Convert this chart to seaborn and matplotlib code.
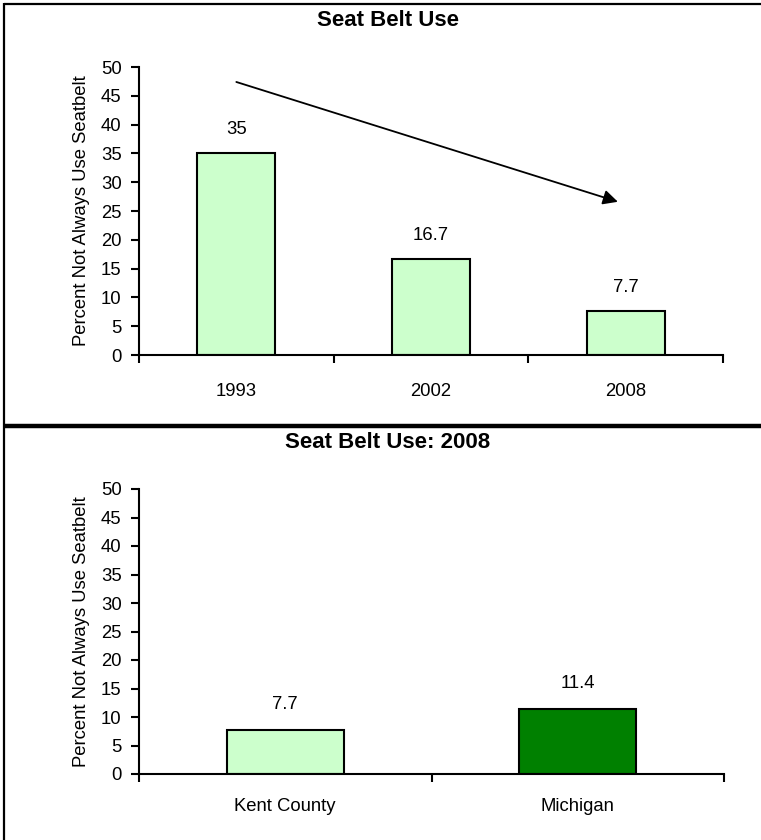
import matplotlib
matplotlib.use("Agg")
import matplotlib.pyplot as plt
from matplotlib.lines import Line2D
import seaborn as sns
import pandas as pd

# Data
years = ["1993", "2002", "2008"]
pct_trend = [35, 16.7, 7.7]
areas = ["Kent County", "Michigan"]
pct_2008 = [7.7, 11.4]

light_green = "#CCFFCC"
dark_green = "#008000"

sns.set_theme(style="white")
plt.rcParams["font.family"] = ["Liberation Sans", "DejaVu Sans"]
plt.rcParams["text.color"] = "black"
plt.rcParams["axes.labelcolor"] = "black"
plt.rcParams["xtick.color"] = "black"
plt.rcParams["ytick.color"] = "black"

W, H = 761, 840
fig = plt.figure(figsize=(W / 100, H / 100), dpi=100)
fig.patch.set_facecolor("white")


def axes_px(left, right, top, bottom):
    return fig.add_axes([left / W, 1 - bottom / H, (right - left) / W, (bottom - top) / H])


def style_axes(ax, labels, label_pad):
    n = len(labels)
    ax.set_xlim(-0.5, n - 0.5)
    ax.set_ylim(0, 50)
    ax.set_yticks(range(0, 51, 5))
    ax.set_xticks([i - 0.5 for i in range(n + 1)])
    ax.set_xticklabels([])
    ax.set_xticks(range(n), minor=True)
    ax.set_xticklabels(labels, minor=True)
    ax.tick_params(axis="x", which="major", direction="out", length=5.5, width=1.5, bottom=True)
    ax.tick_params(axis="x", which="minor", length=0, pad=label_pad, labelsize=13.3, bottom=True)
    ax.tick_params(axis="y", direction="out", length=5.5, width=1.5, pad=7, labelsize=13.3, left=True)
    for side in ("top", "right"):
        ax.spines[side].set_visible(False)
    for side in ("left", "bottom"):
        ax.spines[side].set_visible(True)
        ax.spines[side].set_color("black")
        ax.spines[side].set_linewidth(1.5)
    ax.set_xlabel("")
    ax.set_ylabel("Percent Not Always Use Seatbelt", fontsize=13.3)
    ax.yaxis.set_label_coords(-0.084, 0.5)
    ax.grid(False)
    ax.set_facecolor("white")


def label_bars(ax, values, offset):
    for i, v in enumerate(values):
        ax.annotate(f"{v:g}", (i, v), xytext=(0, offset), textcoords="offset points",
                    ha="center", va="center", fontsize=13.3)


# Top panel: trend over time
ax1 = axes_px(139, 723, 67, 355)
df1 = pd.DataFrame({"year": years, "pct": pct_trend})
sns.barplot(data=df1, x="year", y="pct", hue="year", palette=[light_green] * len(years),
            width=0.4, edgecolor="black", linewidth=1.5, saturation=1, legend=False, ax=ax1)
style_axes(ax1, years, 20)
label_bars(ax1, pct_trend, 17)
ax1.annotate("", xy=(1.96, 26.6), xytext=(0.0, 47.4),
             arrowprops=dict(arrowstyle="-|>", color="black", lw=1.3,
                             mutation_scale=22, shrinkA=0, shrinkB=0))

# Bottom panel: county vs state
ax2 = axes_px(139, 724, 489, 774)
df2 = pd.DataFrame({"area": areas, "pct": pct_2008})
sns.barplot(data=df2, x="area", y="pct", hue="area", palette=[light_green, dark_green],
            width=0.4, edgecolor="black", linewidth=1.5, saturation=1, legend=False, ax=ax2)
style_axes(ax2, areas, 17)
label_bars(ax2, pct_2008, 18.5)

# Panel titles
fig.text(388 / W, 1 - 21 / H, "Seat Belt Use", ha="center", va="center",
         fontsize=16, fontweight="bold")
fig.text(388 / W, 1 - 442 / H, "Seat Belt Use: 2008", ha="center", va="center",
         fontsize=16, fontweight="bold")

# Panel frames
fig.add_artist(Line2D([4 / W, 1], [1 - 4 / H, 1 - 4 / H], color="black", lw=1.6,
                      transform=fig.transFigure, solid_capstyle="butt"))
fig.add_artist(Line2D([4 / W, 1], [1 - 426 / H, 1 - 426 / H], color="black", lw=3.2,
                      transform=fig.transFigure, solid_capstyle="butt"))
fig.add_artist(Line2D([4 / W, 4 / W], [0, 1 - 3 / H], color="black", lw=1.6,
                      transform=fig.transFigure, solid_capstyle="butt"))

fig.savefig("out.png", dpi=100, facecolor="white")
